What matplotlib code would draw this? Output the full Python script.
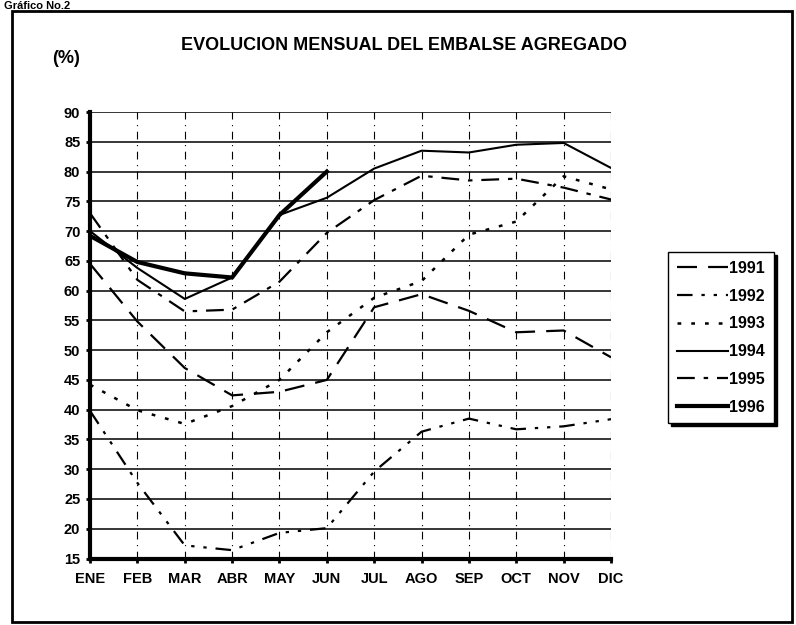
import matplotlib.pyplot as plt
from matplotlib.patches import Rectangle

plt.rcParams['font.family'] = ['Liberation Sans', 'DejaVu Sans']

# Monthly reservoir level (%)
months = ['ENE', 'FEB', 'MAR', 'ABR', 'MAY', 'JUN',
          'JUL', 'AGO', 'SEP', 'OCT', 'NOV', 'DIC']
y1991 = [64.5, 54.8, 47.0, 42.4, 43.0, 45.0, 57.2, 59.4, 56.6, 53.0, 53.3, 48.8]
y1992 = [39.8, 27.7, 17.2, 16.4, 19.3, 20.1, 29.6, 36.3, 38.5, 36.7, 37.2, 38.4]
y1993 = [44.2, 39.9, 37.6, 40.6, 45.0, 53.0, 58.8, 61.6, 69.4, 71.6, 79.2, 77.0]
y1994 = [70.0, 63.8, 58.6, 62.2, 72.7, 75.6, 80.5, 83.5, 83.2, 84.5, 84.8, 80.6]
y1995 = [73.0, 61.8, 56.5, 56.8, 61.5, 69.7, 75.2, 79.3, 78.5, 78.8, 77.3, 75.3]
y1996 = [69.2, 64.8, 62.9, 62.2, 72.7, 80.0]
yticks = list(range(15, 95, 5))

fig = plt.figure(figsize=(7.96, 6.25), dpi=100)
ax = fig.add_axes([0.1131, 0.1064, 0.6545, 0.7144])

x = list(range(len(months)))

# grid: solid horizontal, dashed vertical
for v in yticks[1:]:
    ax.axhline(v, color='black', lw=1.1, zorder=1)
for i in x[1:]:
    ax.axvline(i, color='black', lw=0.8, ls=(0, (7, 5, 1, 5)), zorder=1)

ax.plot(x, y1991, color='black', lw=1.6, ls=(0, (9, 5)), label='1991')
ax.plot(x, y1992, color='black', lw=1.6, ls=(0, (7, 4, 1.5, 4, 1.5, 4)), label='1992')
ax.plot(x, y1993, color='black', lw=1.8, ls=(0, (1.5, 4)), label='1993')
ax.plot(x, y1994, color='black', lw=1.5, label='1994')
ax.plot(x, y1995, color='black', lw=1.6, ls=(0, (8, 4, 2, 4)), label='1995')
ax.plot(x[:len(y1996)], y1996, color='black', lw=3.0, label='1996')

ax.set_xlim(0, 11)
ax.set_ylim(15, 90)
ax.set_xticks(x)
ax.set_xticklabels(months, fontsize=10.5, fontweight='bold')
ax.set_yticks(yticks)
ax.set_yticklabels([str(v) for v in yticks], fontsize=10.5, fontweight='bold')
ax.tick_params(axis='both', length=3, width=2, direction='out', pad=4)
ax.tick_params(axis='x', pad=7)

for side in ['top', 'right']:
    ax.spines[side].set_visible(False)
ax.spines['left'].set_linewidth(3)
ax.spines['bottom'].set_linewidth(3)

fig.text(0.508, 0.928, 'EVOLUCION MENSUAL DEL EMBALSE AGREGADO',
         ha='center', va='center', fontsize=13, fontweight='bold')
fig.text(0.083, 0.907, '(%)', ha='center', va='center',
         fontsize=13, fontweight='bold')
fig.text(0.005, 0.999, 'Gráfico No.2', ha='left', va='top',
         fontsize=8, fontweight='bold')

leg = fig.legend(loc='upper left', bbox_to_anchor=(668 / 796, 1 - 252 / 625),
                 frameon=True, fancybox=False,
                 shadow={'color': 'black', 'alpha': 1.0, 'ox': 2, 'oy': -2},
                 fontsize=11.5, handlelength=3.2, handletextpad=0.1,
                 labelspacing=0.8, borderpad=0.55, borderaxespad=0)
leg.get_frame().set_edgecolor('black')
leg.get_frame().set_linewidth(1.0)
for t in leg.get_texts():
    t.set_fontweight('bold')

# outer frame
fig.patches.append(Rectangle((12 / 796, 3 / 625), 780 / 796, 611 / 625,
                             transform=fig.transFigure, fill=False,
                             edgecolor='black', lw=2))

fig.savefig('out.png', dpi=100)
